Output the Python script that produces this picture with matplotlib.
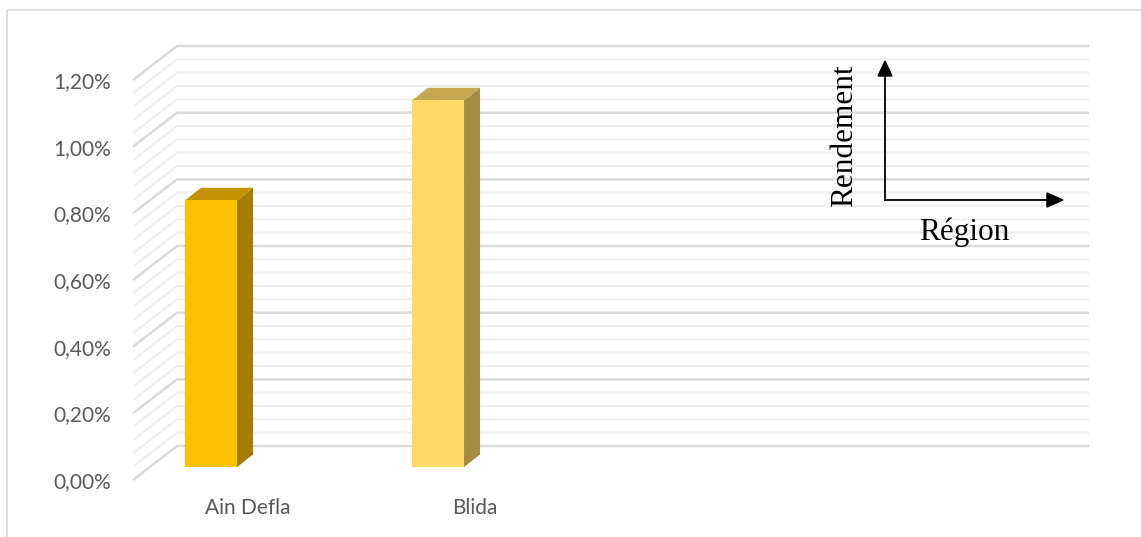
import matplotlib
matplotlib.use("Agg")
import matplotlib.pyplot as plt
import numpy as np
from matplotlib.patches import Polygon, Rectangle
from matplotlib.lines import Line2D

# ---- data ----
categories = ["Ain Defla", "Blida"]
values = [0.008, 0.011]          # rendement (fraction)
y_major = [0.0, 0.002, 0.004, 0.006, 0.008, 0.010, 0.012]
y_tick_labels = ["0,00%", "0,20%", "0,40%", "0,60%", "0,80%", "1,00%", "1,20%"]
n_minor = 5

# ---- style ----
front_colors = ["#FFC000", "#FFD966"]
side_colors = ["#A67C00", "#A68C42"]
top_colors = ["#C49100", "#C4A74F"]
text_gray = "#595959"
W, H = 1141, 537

fig = plt.figure(figsize=(W / 100, H / 100), dpi=100)
ax = fig.add_axes([177 / W, (H - 446) / H, 912 / W, 400 / H])
xmin, xmax = -0.269, 3.749
ymin, ymax = 0.0, 0.012
ax.set_xlim(xmin, xmax)
ax.set_ylim(ymin, ymax)
ax.axis("off")

ppx = 912 / (xmax - xmin)
ppy = 400 / (ymax - ymin)


def off(dx, dy):
    return dx / ppx, dy / ppy

fx, fy = off(-44, -34)      # front plane of side wall
bfx, bfy = off(-27, -21)    # bar front face
bbx, bby = off(-11, -8.5)   # bar back face

# gridlines (minor then major)
minor_vals = np.linspace(ymin, ymax, (len(y_major) - 1) * n_minor + 1)
for v in minor_vals:
    ax.add_line(Line2D([xmin + fx, xmin, xmax], [v + fy, v, v], color="#EFEFEF",
                       lw=1.6, clip_on=False, zorder=1, solid_capstyle="butt"))
for v in y_major:
    ax.add_line(Line2D([xmin + fx, xmin, xmax], [v + fy, v, v], color="#D9D9D9",
                       lw=1.6, clip_on=False, zorder=2, solid_capstyle="butt"))

# tick labels
for v, lab in zip(y_major, y_tick_labels):
    dx, dy = off(-22, -2)
    ax.text(xmin + fx + dx, v + fy + dy, lab, ha="right", va="center",
            fontsize=15, color=text_gray, family="Lato", clip_on=False)

# bars
bw = 52 / ppx
for i, (cat, v) in enumerate(zip(categories, values)):
    x0, x1 = i - bw / 2, i + bw / 2
    side = Polygon([(x1 + bfx, bfy), (x1 + bbx, bby), (x1 + bbx, v + bby), (x1 + bfx, v + bfy)],
                   closed=True, facecolor=side_colors[i], edgecolor="none", zorder=5, clip_on=False)
    top = Polygon([(x0 + bfx, v + bfy), (x1 + bfx, v + bfy), (x1 + bbx, v + bby), (x0 + bbx, v + bby)],
                  closed=True, facecolor=top_colors[i], edgecolor="none", zorder=5, clip_on=False)
    front = Rectangle((x0 + bfx, bfy), bw, v, facecolor=front_colors[i], edgecolor="none",
                      zorder=6, clip_on=False)
    for p in (side, top, front):
        ax.add_patch(p)
    dx, dy = off(10, -62)
    ax.text(i + dx, dy, cat, ha="center", va="center", fontsize=15,
            color=text_gray, family="Lato", clip_on=False)

# chart frame (top and left edges visible)
fig.add_artist(Line2D([7 / W, 7 / W, 1.0], [0.0, 1 - 10 / H, 1 - 10 / H],
                      transform=fig.transFigure, color="#D9D9D9", lw=1.2))

# annotation: axes sketch
ox, oy = 885 / W, 1 - 200 / H
fig.add_artist(plt.Line2D([ox, ox], [oy, 1 - 75 / H], transform=fig.transFigure, color="black", lw=1.3))
fig.add_artist(plt.Line2D([ox, 1048 / W], [oy, oy], transform=fig.transFigure, color="black", lw=1.3))
fig.patches.append(Polygon([(878 / W, 1 - 76 / H), (892 / W, 1 - 76 / H), (885 / W, 1 - 61 / H)],
                           closed=True, transform=fig.transFigure, color="black"))
fig.patches.append(Polygon([(1047 / W, 1 - 193 / H), (1047 / W, 1 - 207 / H), (1063 / W, 1 - 200 / H)],
                           closed=True, transform=fig.transFigure, color="black"))
fig.text(845 / W, 1 - 136 / H, "Rendement", rotation=90, ha="center", va="center",
         fontsize=22.5, family="Liberation Serif", color="black")
fig.text(964 / W, 1 - 232 / H, "Région", ha="center", va="center",
         fontsize=22.5, family="Liberation Serif", color="black")

fig.savefig("out.png", dpi=100, facecolor="white")
